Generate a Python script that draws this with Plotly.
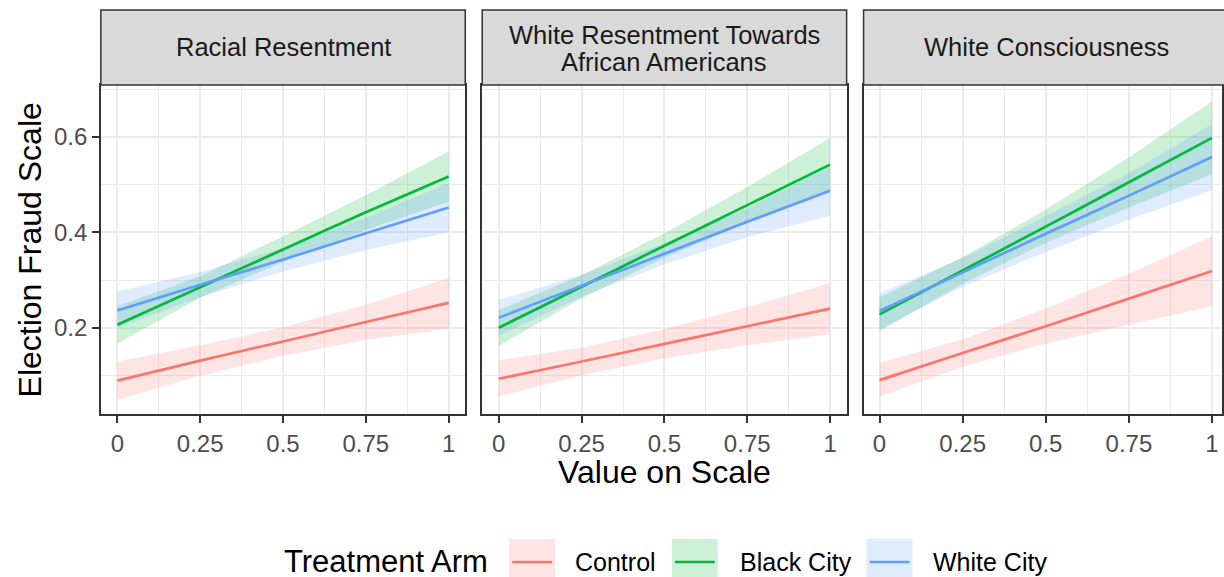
import plotly.graph_objects as go

W, H = 1224, 577

facets = ["Racial Resentment", "White Resentment Towards<br>African Americans", "White Consciousness"]
arms = ["Control", "Black City", "White City"]
colors = {"Control": "#F8766D", "Black City": "#00BA38", "White City": "#619CFF"}
fills = {"Control": "rgba(248,118,109,0.2)", "Black City": "rgba(0,186,56,0.2)", "White City": "rgba(97,156,255,0.2)"}

x_vals = [0, 0.25, 0.5, 0.75, 1]

# fitted values, lower and upper CI per facet and arm
fit = {
    0: {"Control":    [0.089, 0.131, 0.171, 0.212, 0.252],
        "Black City": [0.206, 0.285, 0.364, 0.442, 0.517],
        "White City": [0.236, 0.290, 0.343, 0.398, 0.452]},
    1: {"Control":    [0.093, 0.129, 0.166, 0.203, 0.240],
        "Black City": [0.200, 0.286, 0.372, 0.457, 0.542],
        "White City": [0.221, 0.288, 0.355, 0.422, 0.487]},
    2: {"Control":    [0.090, 0.147, 0.203, 0.261, 0.319],
        "Black City": [0.228, 0.320, 0.412, 0.505, 0.598],
        "White City": [0.235, 0.316, 0.397, 0.477, 0.558]},
}
lower = {
    0: {"Control":    [0.049, 0.099, 0.141, 0.174, 0.198],
        "Black City": [0.167, 0.263, 0.338, 0.405, 0.464],
        "White City": [0.200, 0.264, 0.318, 0.363, 0.400]},
    1: {"Control":    [0.056, 0.100, 0.136, 0.163, 0.186],
        "Black City": [0.162, 0.262, 0.347, 0.420, 0.488],
        "White City": [0.183, 0.265, 0.333, 0.390, 0.435]},
    2: {"Control":    [0.055, 0.118, 0.167, 0.206, 0.245],
        "Black City": [0.193, 0.292, 0.378, 0.452, 0.522],
        "White City": [0.196, 0.286, 0.359, 0.427, 0.489]},
}
upper = {
    0: {"Control":    [0.129, 0.163, 0.201, 0.248, 0.304],
        "Black City": [0.245, 0.308, 0.392, 0.478, 0.570],
        "White City": [0.276, 0.317, 0.367, 0.430, 0.504]},
    1: {"Control":    [0.132, 0.158, 0.197, 0.243, 0.294],
        "Black City": [0.237, 0.310, 0.398, 0.495, 0.598],
        "White City": [0.258, 0.311, 0.377, 0.450, 0.538]},
    2: {"Control":    [0.126, 0.176, 0.240, 0.313, 0.392],
        "Black City": [0.264, 0.348, 0.448, 0.557, 0.675],
        "White City": [0.272, 0.346, 0.434, 0.524, 0.627]},
}

x_ticks = [0, 0.25, 0.5, 0.75, 1]
x_ticktext = ["0", "0.25", "0.5", "0.75", "1"]
y_ticks = [0.2, 0.4, 0.6]
y_ticktext = ["0.2", "0.4", "0.6"]

# layout geometry in pixels
panel_px = [(101, 466), (483, 848), (865, 1224)]
panel_top, panel_bot = 85, 414
strip_top = 10
x_ranges = [[-0.05, 1.05], [-0.05, 1.05], [-0.048, 1.030]]
y_range = [0.019, 0.709]

FONT = "Liberation Sans, Arial, sans-serif"

fig = go.Figure()

for i in range(3):
    xa = "x" if i == 0 else f"x{i+1}"
    ya = "y" if i == 0 else f"y{i+1}"
    for arm in arms:
        xs = x_vals + x_vals[::-1]
        ys = upper[i][arm] + lower[i][arm][::-1]
        fig.add_trace(go.Scatter(x=xs, y=ys, xaxis=xa, yaxis=ya, fill="toself",
                                 fillcolor=fills[arm], line=dict(width=0), mode="lines",
                                 showlegend=False, hoverinfo="skip"))
    for arm in arms:
        fig.add_trace(go.Scatter(x=x_vals, y=fit[i][arm], xaxis=xa, yaxis=ya, mode="lines",
                                 line=dict(color=colors[arm], width=2.7, shape="spline", smoothing=0.6),
                                 showlegend=False, name=arm))

layout = dict(
    width=W, height=H, margin=dict(l=0, r=0, t=0, b=0),
    paper_bgcolor="white", plot_bgcolor="white", showlegend=False,
    font=dict(family=FONT, color="black"),
)

ydom = [1 - panel_bot / H, 1 - panel_top / H]
for i in range(3):
    x0, x1 = panel_px[i]
    key_x = "xaxis" if i == 0 else f"xaxis{i+1}"
    key_y = "yaxis" if i == 0 else f"yaxis{i+1}"
    yname = "y" if i == 0 else f"y{i+1}"
    xname = "x" if i == 0 else f"x{i+1}"
    layout[key_x] = dict(
        domain=[x0 / W, min(x1 / W, 1.0)], range=x_ranges[i], anchor=yname,
        tickvals=x_ticks, ticktext=x_ticktext, ticks="outside", ticklen=7, tickwidth=2,
        tickcolor="#333333", tickfont=dict(size=24, color="#4D4D4D", family=FONT),
        showgrid=True, gridcolor="#EBEBEB", gridwidth=2,
        minor=dict(dtick=0.125, tick0=0, showgrid=True, gridcolor="#EBEBEB", gridwidth=1, ticks=""),
        showline=True, linecolor="#333333", linewidth=1.5, mirror=True, zeroline=False,
    )
    layout[key_y] = dict(
        domain=ydom, range=y_range, anchor=xname,
        tickvals=y_ticks,
        ticks="outside" if i == 0 else "", ticklen=7, tickwidth=2, tickcolor="#333333",
        showticklabels=False,
        showgrid=True, gridcolor="#EBEBEB", gridwidth=2,
        minor=dict(dtick=0.1, tick0=0, showgrid=True, gridcolor="#EBEBEB", gridwidth=1, ticks=""),
        showline=True, linecolor="#333333", linewidth=1.5, mirror=True, zeroline=False,
    )
    if i > 0:
        layout[key_y]["matches"] = "y"

shapes = []
annotations = []

# y tick labels, placed at the axis values
for v, t in zip(y_ticks, y_ticktext):
    annotations.append(dict(text=t, xref="paper", yref="y", x=89 / W, y=v, showarrow=False,
                            xanchor="right", yanchor="middle",
                            font=dict(size=24, color="#4D4D4D", family=FONT)))

for i in range(3):
    x0, x1 = panel_px[i]
    shapes.append(dict(type="rect", xref="paper", yref="paper",
                       x0=x0 / W, x1=(x1 + (8 if i == 2 else 0)) / W,
                       y0=1 - panel_top / H, y1=1 - strip_top / H,
                       fillcolor="#D9D9D9", line=dict(color="#333333", width=1.5), layer="above"))
    cx = (x0 + (x1 if i < 2 else 1231)) / 2
    lines = facets[i].split("<br>")
    if len(lines) == 1:
        ys = [(strip_top + panel_top) / 2]
    else:
        ys = [35, 62]
    for line_text, ly in zip(lines, ys):
        annotations.append(dict(text=line_text, xref="paper", yref="paper", x=cx / W,
                                y=1 - ly / H, showarrow=False,
                                xanchor="center", yanchor="middle",
                                font=dict(size=25.5, color="#1A1A1A", family=FONT)))

annotations.append(dict(text="Value on Scale", xref="paper", yref="paper", x=666 / W, y=1 - 472 / H,
                        showarrow=False, xanchor="center", yanchor="middle",
                        font=dict(size=32, color="black", family=FONT)))
annotations.append(dict(text="Election Fraud Scale", xref="paper", yref="paper", x=30 / W,
                        y=1 - (panel_top + panel_bot) / 2 / H, showarrow=False, textangle=-90,
                        xanchor="center", yanchor="middle",
                        font=dict(size=32, color="black", family=FONT)))

# legend drawn manually
leg_y = 561
annotations.append(dict(text="Treatment Arm", xref="paper", yref="paper", x=283 / W, y=1 - leg_y / H,
                        showarrow=False, xanchor="left", yanchor="middle", borderpad=0,
                        font=dict(size=31, color="black", family=FONT)))
key_boxes = {"Control": (510, 556, 574), "Black City": (673, 719, 739), "White City": (868, 914, 933)}
for arm in arms:
    bx0, bx1, tx = key_boxes[arm]
    shapes.append(dict(type="rect", xref="paper", yref="paper", x0=bx0 / W, x1=bx1 / W,
                       y0=1 - 586 / H, y1=1 - 539 / H, fillcolor=fills[arm], line=dict(width=0)))
    shapes.append(dict(type="line", xref="paper", yref="paper", x0=(bx0 + 3) / W, x1=(bx1 - 3) / W,
                       y0=1 - 562 / H, y1=1 - 562 / H, line=dict(color=colors[arm], width=2.7)))
    annotations.append(dict(text=arm, xref="paper", yref="paper", x=tx / W, y=1 - 562 / H,
                            showarrow=False, xanchor="left", yanchor="middle",
                            font=dict(size=25, color="black", family=FONT)))

layout["shapes"] = shapes
layout["annotations"] = annotations
fig.update_layout(**layout)

fig.write_html("out.html", config={"displayModeBar": False},
               post_script="document.body.style.margin='0px';document.body.style.overflow='hidden';")
